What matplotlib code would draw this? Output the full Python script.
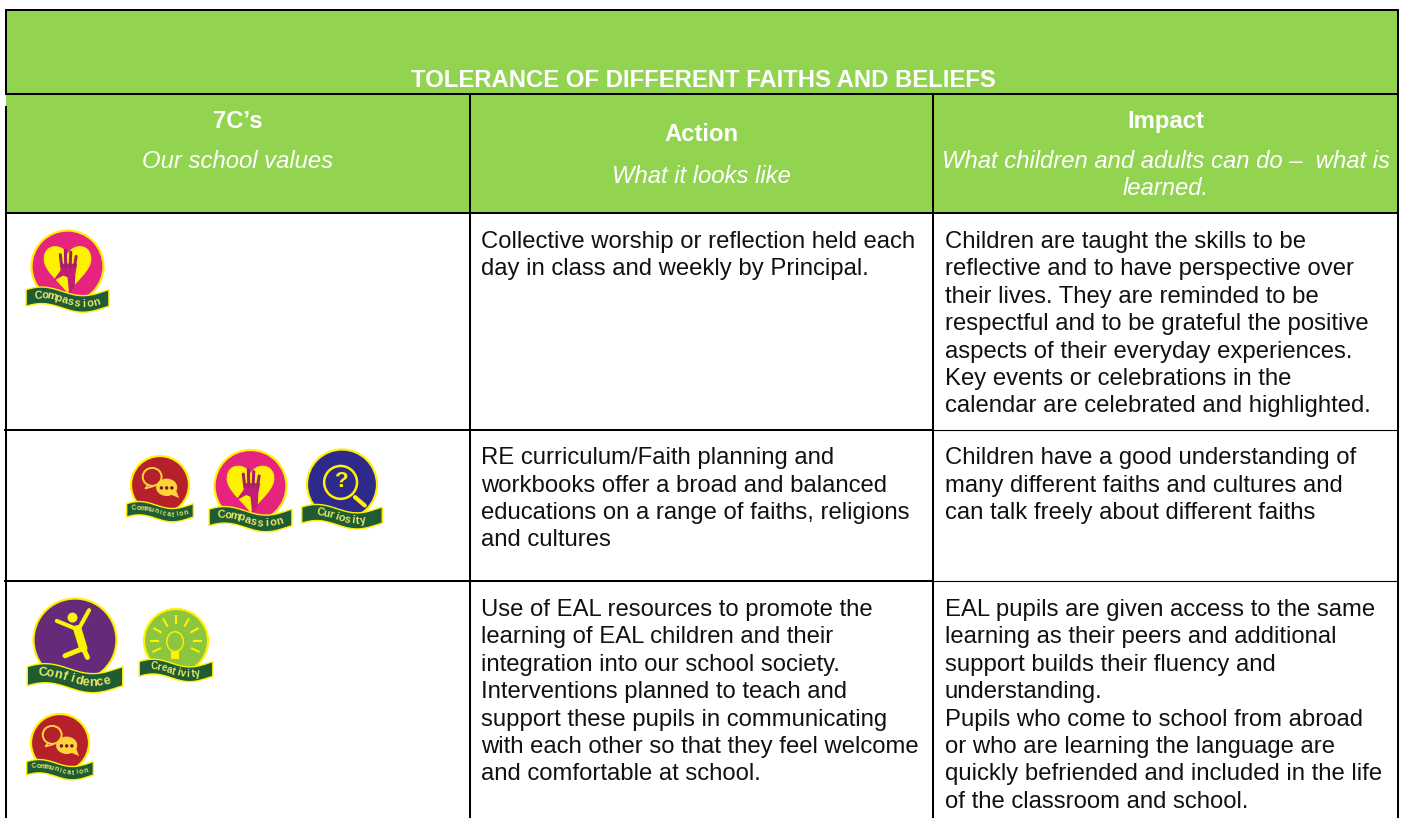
import matplotlib
matplotlib.use('Agg')
import matplotlib.pyplot as plt
from matplotlib.patches import Circle, Polygon, Rectangle, Ellipse, PathPatch
from matplotlib.path import Path
import numpy as np

plt.rcParams['font.family'] = ['Liberation Sans', 'DejaVu Sans']

GREEN = '#92D350'
BANNER = '#1F5C34'
YELLOW = '#FFF200'
BUBBLE = '#FFD43A'
FS = 17.2

title = 'TOLERANCE OF DIFFERENT FAITHS AND BELIEFS'
head_bold = ['7C\u2019s', 'Action', 'Impact']
head_ital = [['Our school values'], ['What it looks like'],
             ['What children and adults can do \u2013  what is', 'learned.']]

action_rows = [
    ['Collective worship or reflection held each', 'day in class and weekly by Principal.'],
    ['RE curriculum/Faith planning and', 'workbooks offer a broad and balanced',
     'educations on a range of faiths, religions', 'and cultures'],
    ['Use of EAL resources to promote the', 'learning of EAL children and their',
     'integration into our school society.', 'Interventions planned to teach and',
     'support these pupils in communicating', 'with each other so that they feel welcome',
     'and comfortable at school.'],
]
impact_rows = [
    ['Children are taught the skills to be', 'reflective and to have perspective over',
     'their lives. They are reminded to be', 'respectful and to be grateful the positive',
     'aspects of their everyday experiences.', 'Key events or celebrations in the',
     'calendar are celebrated and highlighted.'],
    ['Children have a good understanding of', 'many different faiths and cultures and',
     'can talk freely about different faiths'],
    ['EAL pupils are given access to the same', 'learning as their peers and additional',
     'support builds their fluency and', 'understanding.',
     'Pupils who come to school from abroad', 'or who are learning the language are',
     'quickly befriended and included in the life', 'of the classroom and school.'],
]
row_y = [248, 464.3, 616]

# name, centre x, centre y, radius, circle colour, share of banner under the letters
badges = [
    ('Compassion', 67.5, 266.5, 36, '#E6247F', 0.70),
    ('Communication', 160, 485, 29, '#B5202B', 0.78),
    ('Compassion', 250.5, 486, 36, '#E6247F', 0.70),
    ('Curiosity', 342, 484.5, 35, '#2E2A8C', 0.53),
    ('Confidence', 75, 640, 41.5, '#652A7A', 0.67),
    ('Creativity', 176, 641, 32, '#8CC63F', 0.59),
    ('Communication', 60, 743, 29, '#B5202B', 0.78),
]

fig = plt.figure(figsize=(14.04, 8.18), dpi=100)
ax = fig.add_axes([0, 0, 1, 1])
ax.set_xlim(0, 1404)
ax.set_ylim(818, 0)
ax.axis('off')

# green header block
ax.add_patch(Rectangle((6, 10), 1392, 203, fc=GREEN, ec='none', zorder=0))


def hline(x0, x1, y, lw=1.45):
    ax.plot([x0, x1], [y, y], color='black', lw=lw, solid_capstyle='butt', zorder=2)


def vline(x, y0, y1):
    ax.plot([x, x], [y0, y1], color='black', lw=1.45, solid_capstyle='butt', zorder=2)


hline(5, 1399, 10)
hline(5, 1399, 94)
hline(5, 1399, 213)
for y in [430, 581]:
    hline(4, 933, y)
    hline(933, 1398, y, lw=0.8)
vline(6, 10, 94)
vline(6, 106, 818)
vline(1398, 10, 818)
vline(470, 94, 818)
vline(932.5, 94, 818)

ax.text(703, 86.7, title, color='white', fontsize=FS, fontweight='bold', ha='center', va='baseline')

head_x = [238, 701, 1166]
for x, b, it in zip(head_x, head_bold, head_ital):
    top = 128 if b != 'Action' else 141
    ax.text(x, top, b, color='white', fontsize=FS, fontweight='bold', ha='center', va='baseline')
    y = 168 if b != 'Action' else 183
    for line in it:
        ax.text(x, y, line, color='white', fontsize=FS, style='italic', ha='center', va='baseline')
        y += 27.4


def draw_rows(rows, x):
    for lines, y in zip(rows, row_y):
        for i, line in enumerate(lines):
            ax.text(x, y + i * 27.4, line, color='#111111', fontsize=FS, ha='left', va='baseline')


draw_rows(action_rows, 481)
draw_rows(impact_rows, 945)


def icon(name, cx, cy, r, colour):
    def P(x, y):
        return (cx + x * r, cy + y * r)
    k = r / 36
    if name == 'Compassion':
        codes = [Path.MOVETO] + [Path.CURVE4] * 12 + [Path.CLOSEPOLY]
        verts = [P(0, -0.32), P(-0.12, -0.64), P(-0.65, -0.66), P(-0.65, -0.2),
                 P(-0.65, 0.1), P(-0.25, 0.4), P(0, 0.72),
                 P(0.25, 0.4), P(0.65, 0.1), P(0.65, -0.2),
                 P(0.65, -0.66), P(0.12, -0.64), P(0, -0.32), P(0, -0.32)]
        ax.add_patch(PathPatch(Path(verts, codes), fc=YELLOW, ec=YELLOW, lw=0.6, zorder=5))
        ax.add_patch(Polygon(np.array([P(-0.42, 0.42), P(-0.2, 0.12), P(-0.16, -0.08), P(0.27, -0.08),
                                       P(0.22, 0.2), P(0.2, 0.55), P(0.05, 0.8), P(0.0, 0.3),
                                       P(-0.12, 0.25)]),
                             fc='#C21E78', ec='none', zorder=6))
        for dx, top in zip([-0.2, -0.06, 0.09, 0.24], [-0.33, -0.45, -0.4, -0.28]):
            ax.plot([cx + dx * r * 0.8, cx + dx * r], [cy + 0.02 * r, cy + top * r],
                    color='#A61E6B', lw=2.2 * k, solid_capstyle='round', zorder=7)
    elif name == 'Communication':
        ax.add_patch(Ellipse(P(-0.27, -0.28), 0.65 * r, 0.62 * r, fc='none', ec=BUBBLE, lw=1.4, zorder=5))
        ax.plot(*zip(P(-0.42, 0.0), P(-0.5, 0.12), P(-0.25, 0.05)), color=BUBBLE, lw=1.2, zorder=5)
        ax.add_patch(Ellipse(P(0.23, 0.08), 0.73 * r, 0.6 * r, fc=BUBBLE, ec='none', zorder=6))
        ax.add_patch(Polygon(np.array([P(0.3, 0.3), P(0.66, 0.45), P(0.52, 0.1)]), fc=BUBBLE, ec='none', zorder=6))
        for dx in [0.05, 0.23, 0.41]:
            ax.add_patch(Circle(P(dx, 0.1), 0.06 * r, fc='#7A1A20', ec='none', zorder=7))
    elif name == 'Curiosity':
        ax.add_patch(Circle(P(-0.04, -0.06), 0.47 * r, fc='none', ec=YELLOW, lw=1.8, zorder=5))
        ax.plot(*zip(P(0.37, 0.36), P(0.65, 0.6)), color=YELLOW, lw=3, solid_capstyle='round', zorder=5)
        ax.text(*P(0, -0.08), '?', color=YELLOW, fontsize=r * 0.46, fontweight='bold',
                ha='center', va='center', zorder=6)
    elif name == 'Confidence':
        ax.add_patch(Circle(P(-0.06, -0.54), 0.12 * r, fc=YELLOW, ec='none', zorder=6))
        for a, b, w in [(P(-0.44, -0.46), P(0.0, -0.28), 2.9), (P(0.12, -0.32), P(0.34, -0.72), 2.9),
                        (P(0.06, -0.26), P(0.2, 0.2), 6), (P(0.2, 0.2), P(-0.24, 0.38), 3.6),
                        (P(0.2, 0.2), P(0.3, 0.42), 3.6)]:
            ax.plot(*zip(a, b), color=YELLOW, lw=w, solid_capstyle='round', zorder=6)
    elif name == 'Creativity':
        ax.add_patch(Ellipse(P(-0.03, 0.02), 0.52 * r, 0.62 * r, fc='none', ec=YELLOW, lw=1.0, zorder=5))
        ax.add_patch(Rectangle(P(-0.15, 0.32), 0.24 * r, 0.25 * r, fc=YELLOW, ec='none', zorder=5))
        for a in np.deg2rad([-180, -150, -120, -90, -60, -30, 0, 25, 155]):
            ax.plot([cx + 0.55 * r * np.cos(a), cx + 0.78 * r * np.cos(a)],
                    [cy + 0.55 * r * np.sin(a), cy + 0.78 * r * np.sin(a)],
                    color=YELLOW, lw=1.5, zorder=5)


def banner_mid(t, cy, r):
    # wave: up at the left, lowest about 70% along, up again at the end
    return cy + r * (0.92 - 0.12 * np.sin(2 * np.pi * t + 0.4))


def badge(name, cx, cy, r, colour, span):
    ax.add_patch(Circle((cx, cy), r, fc=colour, ec=YELLOW, lw=1.6, zorder=4))
    icon(name, cx, cy, r, colour)
    half = r * 1.15
    t = np.linspace(0, 1, 50)
    xs = cx - half + 2 * half * t
    mid = banner_mid(t, cy, r)
    h = r * 0.23
    outline = np.vstack([np.column_stack([xs, mid - h]),
                         np.column_stack([xs[::-1], (mid + h)[::-1]])])
    ax.add_patch(Polygon(outline, fc=BANNER, ec=YELLOW, lw=1.0, zorder=8))
    # letters follow the banner
    n = len(name)
    size = r * (0.17 if n > 10 else 0.22)
    for i, ch in enumerate(name):
        ti = 0.5 + (i - (n - 1) / 2) / (n - 1) * span
        xi = cx - half + 2 * half * ti
        yi = banner_mid(ti, cy, r)
        slope = (banner_mid(ti + 0.01, cy, r) - yi) / (2 * half * 0.01)
        ax.text(xi, yi, ch, color='#E8E86A', fontsize=size, fontweight='bold',
                ha='center', va='center', rotation=-np.degrees(np.arctan(slope)),
                rotation_mode='anchor', zorder=9)


for name, cx, cy, r, colour, span in badges:
    badge(name, cx, cy, r, colour, span)

plt.savefig('out.png', dpi=100)
